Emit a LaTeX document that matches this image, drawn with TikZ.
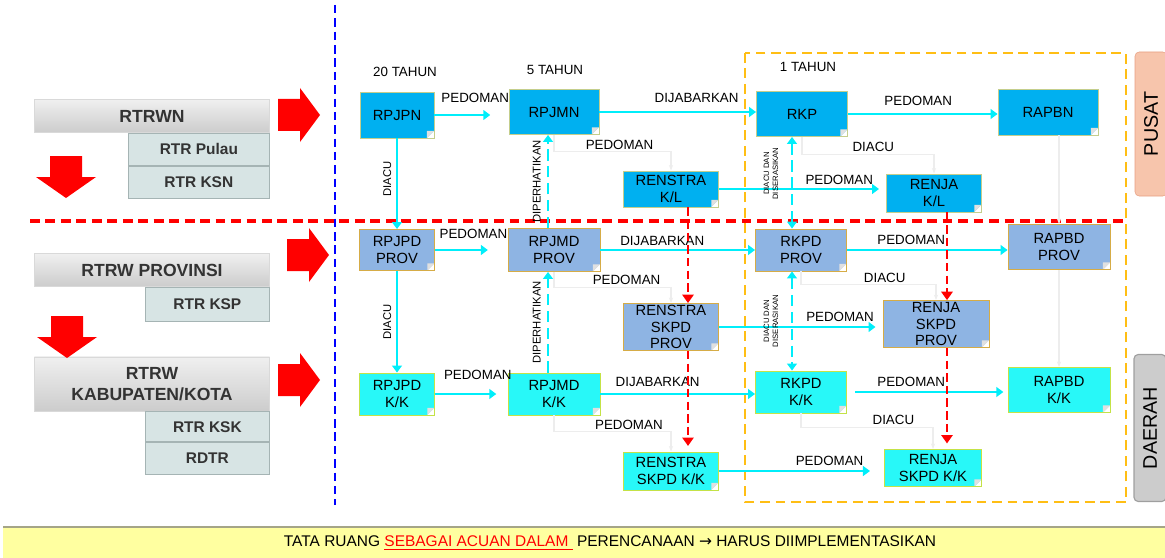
\documentclass[tikz,border=0pt]{standalone}
\usepackage{fontspec}
\setmainfont{Liberation Sans}
\newfontfamily\symfont{DejaVu Sans}
\usepackage{tikz}
\usetikzlibrary{arrows.meta, positioning, calc}

\definecolor{pusatblue}{RGB}{0,176,240}
\definecolor{pusatline}{RGB}{196,206,140}
\definecolor{provblue}{RGB}{142,180,227}
\definecolor{provline}{RGB}{214,172,70}
\definecolor{kkcyan}{RGB}{40,248,248}
\definecolor{kkline}{RGB}{196,226,70}
\definecolor{flowcyan}{RGB}{0,238,250}
\definecolor{rtrfill}{RGB}{215,228,228}
\definecolor{rtrline}{RGB}{165,180,180}
\definecolor{bandyellow}{RGB}{255,255,160}
\definecolor{bandline}{RGB}{165,165,135}
\definecolor{orangeline}{RGB}{255,190,20}
\definecolor{peach}{RGB}{247,197,172}
\definecolor{peachline}{RGB}{232,160,130}

\newcommand\redright[2]{\fill[red] (#1,#2) ++(0,-16) -- ++(22,0) -- ++(0,-11) -- ++(20,27) -- ++(-20,27) -- ++(0,-11) -- ++(-22,0) -- cycle;}
\newcommand\reddown[2]{\fill[red] (#1,#2) ++(-16,0) -- ++(32,0) -- ++(0,21) -- ++(14,0) -- ++(-30,21) -- ++(-30,-21) -- ++(14,0) -- cycle;}

\begin{document}
\begin{tikzpicture}[
    x=0.025cm, y=-0.025cm,
    plan/.style={rectangle, draw, line width=0.6pt, align=center, inner sep=1pt,
        font=\fontsize{10.5}{12}\selectfont,
        path picture={
            \fill[white] ([xshift=-5pt]path picture bounding box.south east) -- ([yshift=5pt]path picture bounding box.south east) -- (path picture bounding box.south east) -- cycle;
            \fill[black!12] ([xshift=-5pt]path picture bounding box.south east) -- ([yshift=5pt]path picture bounding box.south east) -- ([xshift=-5pt, yshift=5pt]path picture bounding box.south east) -- cycle;
        }},
    pusat/.style={plan, fill=pusatblue, draw=pusatline},
    prov/.style={plan, fill=provblue, draw=provline},
    kk/.style={plan, fill=kkcyan, draw=kkline},
    rtr/.style={rectangle, top color=gray!12, bottom color=gray!40, draw=gray!30, align=center,
        minimum width=5.875cm, text=black!80, font=\bfseries\fontsize{12.5}{15}\selectfont},
    rtrsub/.style={rectangle, fill=rtrfill, draw=rtrline, line width=0.6pt, anchor=north east,
        text=black!80, font=\bfseries\fontsize{11}{13}\selectfont},
    lbl/.style={font=\fontsize{9.5}{11}\selectfont, inner sep=1pt},
    vlbl/.style={font=\fontsize{8}{9}\selectfont, rotate=90, inner sep=0pt},
    tinylbl/.style={font=\fontsize{5.5}{6.5}\selectfont, rotate=90, inner sep=0pt, align=center},
    arr/.style={-{Triangle[length=5pt, width=7pt]}, draw=flowcyan, line width=1.8pt},
    arrdash/.style={arr, dash pattern=on 8pt off 4pt},
    arrdbl/.style={arrdash, {Triangle[length=5pt, width=7pt]}-{Triangle[length=5pt, width=7pt]}},
    faint/.style={-{Stealth[length=4pt]}, draw=gray!14, line width=0.8pt},
    reddash/.style={-{Triangle[length=6pt, width=8pt]}, draw=red, line width=2pt, dash pattern=on 6pt off 3pt},
]
\useasboundingbox (0,0) rectangle (1165,558);

% dividers
\draw[red, line width=2.2pt, dash pattern=on 7pt off 4pt] (30,221) -- (1128,221);
\draw[blue, line width=2pt, dash pattern=on 6pt off 3.5pt] (335,5) -- (335,505);
\draw[orangeline, line width=2pt, dash pattern=on 7pt off 4pt] (745,53) rectangle (1126,502);

% tata ruang
\node[rtr, minimum height=0.825cm] (rtrwn) at (152,116) {RTRWN};
\node[rtrsub, minimum width=3.525cm, minimum height=0.8cm] (pulau) at (rtrwn.south east) {RTR Pulau};
\node[rtrsub, minimum width=3.525cm, minimum height=0.8cm] (ksn) at (pulau.south east) {RTR KSN};
\node[rtr, minimum height=0.825cm] (rtrwprov) at (152,270) {RTRW PROVINSI};
\node[rtrsub, minimum width=3.1cm, minimum height=0.85cm] (ksp) at (rtrwprov.south east) {RTR KSP};
\node[rtr, minimum height=1.35cm] (rtrwkk) at (152,384) {RTRW\\KABUPATEN/KOTA};
\node[rtrsub, minimum width=3.1cm, minimum height=0.75cm] (ksk) at (rtrwkk.south east) {RTR KSK};
\node[rtrsub, minimum width=3.1cm, minimum height=0.8cm] (rdtr) at (ksk.south east) {RDTR};

\redright{278}{115}
\redright{287}{255}
\redright{278}{380}
\reddown{66}{156}
\reddown{67}{316}

% periods
\node[lbl] (t20) at (405,72) {20 TAHUN};
\node[lbl] (t5) at (555,70) {5 TAHUN};
\node[lbl] (t1) at (808,67) {1 TAHUN};

% pusat
\node[pusat, minimum width=1.85cm, minimum height=1.15cm] (rpjpn) at (397,115) {RPJPN};
\node[pusat, minimum width=2.25cm, minimum height=1.125cm] (rpjmn) at (554,112) {RPJMN};
\node[pusat, minimum width=2.275cm, minimum height=1.125cm] (rkp) at (802,114) {RKP};
\node[pusat, minimum width=2.5cm, minimum height=1.15cm] (rapbn) at (1048,112) {RAPBN};
\node[pusat, minimum width=2.375cm, minimum height=0.9cm] (renstrakl) at (671,189) {RENSTRA\\K/L};
\node[pusat, minimum width=2.375cm, minimum height=0.95cm] (renjakl) at (934,193) {RENJA\\K/L};

% provinsi
\node[prov, minimum width=1.875cm, minimum height=1.025cm] (rpjpdprov) at (397,250) {RPJPD\\PROV};
\node[prov, minimum width=2.3cm, minimum height=1.075cm] (rpjmdprov) at (554,250) {RPJMD\\PROV};
\node[prov, minimum width=2.275cm, minimum height=1.05cm] (rkpdprov) at (801,250) {RKPD\\PROV};
\node[prov, minimum width=2.55cm, minimum height=1.125cm] (rapbdprov) at (1059,247) {RAPBD\\PROV};
\node[prov, minimum width=2.375cm, minimum height=1.0cm] (renstraprov) at (671,327) {RENSTRA\\SKPD\\PROV};
\node[prov, minimum width=2.65cm, minimum height=1.05cm] (renjaprov) at (936,324) {RENJA\\SKPD\\PROV};

% kabupaten/kota
\node[kk, minimum width=1.875cm, minimum height=1.05cm] (rpjpdkk) at (397,394) {RPJPD\\K/K};
\node[kk, minimum width=2.3cm, minimum height=1.05cm] (rpjmdkk) at (554,394) {RPJMD\\K/K};
\node[kk, minimum width=2.275cm, minimum height=1.05cm] (rkpdkk) at (801,392) {RKPD\\K/K};
\node[kk, minimum width=2.55cm, minimum height=1.125cm] (rapbdkk) at (1059,390) {RAPBD\\K/K};
\node[kk, minimum width=2.375cm, minimum height=0.95cm] (renstrakk) at (671,471) {RENSTRA\\SKPD K/K};
\node[kk, minimum width=2.425cm, minimum height=0.925cm] (renjakk) at (933,468) {RENJA\\SKPD K/K};

% faint links
\draw[faint] (rpjmn.south) |- node[lbl, pos=0.78, above=0pt] {PEDOMAN} ($(renstrakl.north)+(0,-19)$) -- (renstrakl.north);
\draw[faint] (rkp.south) |- node[lbl, pos=0.77, above=1pt] {DIACU} ($(renjakl.north)+(0,-19)$) -- (renjakl.north);
\draw[faint] (rpjmdprov.south) |- node[lbl, pos=0.81, above=0pt] {PEDOMAN} ($(renstraprov.north)+(0,-16)$) -- (renstraprov.north);
\draw[faint] (rkpdprov.south) |- node[lbl, pos=0.81, above=0pt] {DIACU} ($(renjaprov.north)+(0,-16)$) -- (renjaprov.north);
\draw[faint] (rpjmdkk.south) |- node[lbl, pos=0.82, above=0pt] {PEDOMAN} ($(renstrakk.north)+(0,-20)$) -- (renstrakk.north);
\draw[faint] (rkpdkk.south) |- node[lbl, pos=0.85, above=0pt] {DIACU} ($(renjakk.north)+(0,-22)$) -- (renjakk.north);
\draw[faint] (rapbdprov.north |- rapbn.south) -- (rapbdprov.north);
\draw[faint] (rapbdprov.south) -- (rapbdkk.north);

% start points of the dashed links
\coordinate (hatiprov) at ($(rpjmdprov.north)+(-6,0)$);
\coordinate (hatikk) at ($(rpjmdkk.north)+(-6,0)$);
\coordinate (serasiprov) at ($(rkp.south)+(-10,0)$);
\coordinate (serasikk) at ($(rkpdprov.south)+(-9,0)$);
\coordinate (renstra1) at ($(renstrakl.south)+(17,0)$);
\coordinate (renstra2) at ($(renstraprov.south)+(17,0)$);
\coordinate (renja1) at ($(renjakl.south)+(13,0)$);
\coordinate (renja2) at ($(renjaprov.south)+(11,0)$);

% pusat flows
\draw[arr, shorten >=13pt] (rpjpn.east) -- (rpjpn.east -| rpjmn.west) node[lbl, pos=0.55, above=7pt] {PEDOMAN};
\draw[arr] (rpjmn.east) -- (rpjmn.east -| rkp.west) node[lbl, pos=0.62, above=5pt] {DIJABARKAN};
\draw[arr] (rkp.east) -- (rkp.east -| rapbn.west) node[lbl, pos=0.47, above=4pt] {PEDOMAN};
\draw[arr, shorten >=5pt] (renstrakl.east) -- (renstrakl.east -| renjakl.west) node[lbl, pos=0.72, above=1pt] {PEDOMAN};
\draw[arr] (rpjpn.south) -- (rpjpdprov.north) node[vlbl, pos=0.45, yshift=7pt] {DIACU};
\draw[arrdash] (hatiprov) -- (hatiprov |- rpjmn.south) node[vlbl, midway, yshift=8pt] {DIPERHATIKAN};
\draw[arrdbl] (serasiprov) -- (serasiprov |- rkpdprov.north) node[tinylbl, pos=0.4, yshift=15pt] {DIACU DAN\\DISERASIKAN};

% provinsi flows
\draw[arr, shorten >=14pt] (rpjpdprov.east) -- (rpjpdprov.east -| rpjmdprov.west) node[lbl, pos=0.53, above=6pt] {PEDOMAN};
\draw[arr] (rpjmdprov.east) -- (rpjmdprov.east -| rkpdprov.west) node[lbl, pos=0.4, above=1pt] {DIJABARKAN};
\draw[arr] (rkpdprov.east) -- (rkpdprov.east -| rapbdprov.west) node[lbl, pos=0.4, above=2pt] {PEDOMAN};
\draw[arr, shorten >=5pt] (renstraprov.east) -- (renstraprov.east -| renjaprov.west) node[lbl, pos=0.74, above=2pt] {PEDOMAN};
\draw[arr] (rpjpdprov.south) -- (rpjpdkk.north) node[vlbl, midway, yshift=7pt] {DIACU};
\draw[arrdash] (hatikk) -- (hatikk |- rpjmdprov.south) node[vlbl, midway, yshift=8pt] {DIPERHATIKAN};
\draw[arrdbl] (serasikk) -- (serasikk |- rkpdkk.north) node[tinylbl, midway, yshift=15pt] {DIACU DAN\\DISERASIKAN};

% kabupaten/kota flows
\draw[arr, shorten >=8pt] (rpjpdkk.east) -- (rpjpdkk.east -| rpjmdkk.west) node[lbl, pos=0.59, above=8pt] {PEDOMAN};
\draw[arr] (rpjmdkk.east) -- (rpjmdkk.east -| rkpdkk.west) node[lbl, pos=0.37, above=3pt] {DIJABARKAN};
\draw[arr, shorten <=6pt, shorten >=3pt] (rkpdkk.east) -- (rkpdkk.east -| rapbdkk.west) node[lbl, pos=0.4, above=2pt] {PEDOMAN};
\draw[arr, shorten >=10pt] (renstrakk.east) -- (renstrakk.east -| renjakk.west) node[lbl, pos=0.67, above=2pt] {PEDOMAN};

% renstra / renja cascade
\draw[reddash] (renstra1) -- (renstra1 |- renstraprov.north);
\draw[reddash, shorten >=4pt] (renstra2) -- (renstra2 |- renstrakk.north);
\draw[reddash] (renja1) -- (renja1 |- renjaprov.north);
\draw[reddash, shorten >=4pt] (renja2) -- (renja2 |- renjakk.north);

% levels
\node[rotate=90, rounded corners=3pt, fill=peach, draw=peachline, minimum width=3.6cm, minimum height=0.8cm,
      font=\fontsize{14}{16}\selectfont] (pusatlvl) at (1151,124) {PUSAT};
\node[rotate=90, rounded corners=3pt, fill=gray!40, draw=gray!75, line width=0.8pt, minimum width=3.675cm, minimum height=0.8cm,
      font=\fontsize{14}{16}\selectfont] (daerahlvl) at (1150,428) {DAERAH};

% footer
\fill[bandyellow] (3,527) rectangle (1165,558);
\draw[bandline, line width=1.5pt] (3,527) -- (1165,527);
\node[font=\fontsize{11}{13}\selectfont, inner sep=0pt] (footer) at (610,543)
    {TATA RUANG \textcolor{red}{\underline{SEBAGAI ACUAN DALAM\ }} PERENCANAAN {\symfont →} HARUS DIIMPLEMENTASIKAN};
\end{tikzpicture}
\end{document}
